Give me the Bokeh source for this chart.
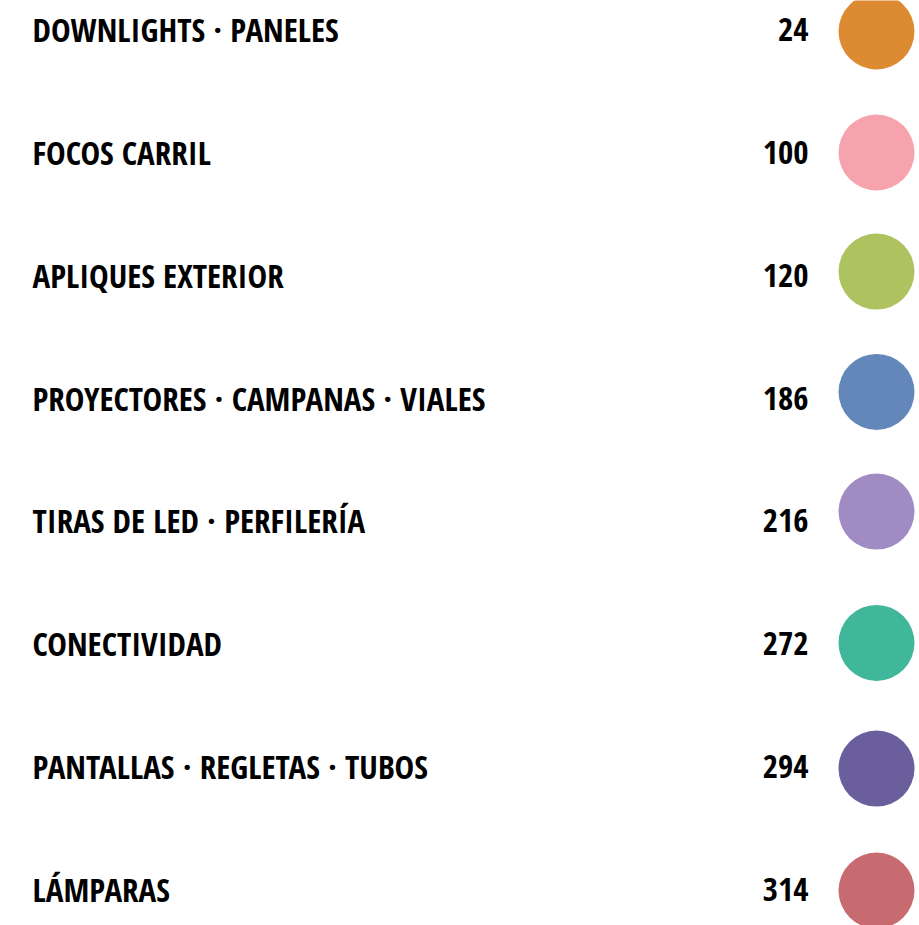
from bokeh.plotting import figure
from bokeh.models import Range1d, ColumnDataSource
from bokeh.core.properties import value
from bokeh.embed import file_html
from bokeh.resources import INLINE

# --- data ---
sections = [
    "DOWNLIGHTS · PANELES",
    "FOCOS CARRIL",
    "APLIQUES EXTERIOR",
    "PROYECTORES · CAMPANAS · VIALES",
    "TIRAS DE LED · PERFILERÍA",
    "CONECTIVIDAD",
    "PANTALLAS · REGLETAS · TUBOS",
    "LÁMPARAS",
]
pages = ["24", "100", "120", "186", "216", "272", "294", "314"]
colors = ["#DC8B33", "#F6A3AE", "#AEC260", "#6487BA",
          "#A08BC3", "#40B69B", "#6A5E9C", "#C86B70"]

# --- layout (page pixel coordinates) ---
W, H = 919, 925
row0, row_step = 30.5, 122.79
circle_dy = [0.5, -1.3, -5, -7.4, -10.6, -2, 0.8, 0]
font = "Open Sans Condensed"
fsize = 33
cap = 0.714 * fsize
baseline_fix = -13  # renderer places the alphabetic baseline lower

rows = [row0 + i * row_step for i in range(len(sections))]
src = ColumnDataSource(dict(
    label=sections,
    page=pages,
    color=colors,
    ty=[r + cap / 2 + baseline_fix for r in rows],
    cy=[r + d for r, d in zip(rows, circle_dy)],
    lx=[32] * len(rows),
    px=[808] * len(rows),
    cx=[876] * len(rows),
))

p = figure(width=W, height=H, output_backend="svg", toolbar_location=None,
           x_range=Range1d(0, W), y_range=Range1d(H, 0),
           min_border=0, outline_line_color=None, background_fill_color="white",
           border_fill_color="white")
p.axis.visible = False
p.grid.visible = False

p.text(x="lx", y="ty", text="label", source=src, text_font=value(font),
       text_font_style="bold", text_font_size=f"{fsize}px", text_color="#000000",
       text_align="left", text_baseline="alphabetic")
p.text(x="px", y="ty", text="page", source=src, text_font=value(font),
       text_font_style="bold", text_font_size=f"{fsize}px", text_color="#000000",
       text_align="right", text_baseline="alphabetic")
p.scatter(x="cx", y="cy", source=src, size=76, marker="circle",
          fill_color="color", line_color=None)

open("out.html", "w").write(file_html(p, INLINE))
